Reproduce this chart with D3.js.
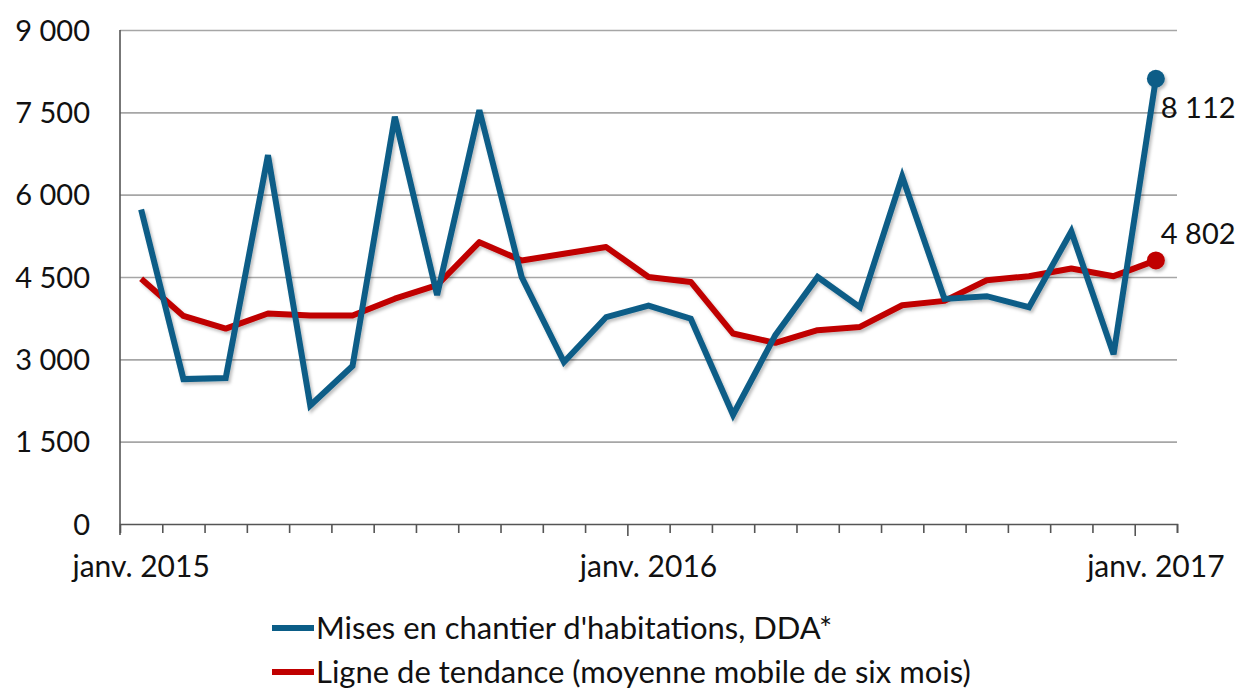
<!DOCTYPE html>
<html>
<head>
<meta charset="utf-8">
<script src="https://cdn.jsdelivr.net/npm/d3@7"></script>
<style>
  body { margin: 0; background: #fff; }
  svg text { font-family: Lato, "Open Sans", sans-serif; fill: #111; }
</style>
</head>
<body>
<svg id="chart" width="1241" height="692"></svg>
<script>
// months, jan 2015 -> jan 2017
var months = ["2015-01","2015-02","2015-03","2015-04","2015-05","2015-06","2015-07","2015-08","2015-09","2015-10","2015-11","2015-12",
              "2016-01","2016-02","2016-03","2016-04","2016-05","2016-06","2016-07","2016-08","2016-09","2016-10","2016-11","2016-12",
              "2017-01"];
var mises = [5730, 2640, 2660, 6720, 2160, 2880, 7420, 4170, 7540, 4500, 2950, 3770,
             3980, 3740, 1990, 3440, 4500, 3950, 6330, 4100, 4150, 3950, 5330, 3090,
             8112];
var tendance = [4470, 3790, 3560, 3835, 3800, 3800, 4105, 4350, 5135, 4800, 4925, 5045,
                4500, 4410, 3470, 3300, 3530, 3590, 3985, 4065, 4440, 4515, 4655, 4515,
                4802];
var yTicks = [0, 1500, 3000, 4500, 6000, 7500, 9000];
var xLabels = [{ month: "2015-01", text: "janv. 2015" }, { month: "2016-01", text: "janv. 2016" }, { month: "2017-01", text: "janv. 2017" }];
var seriesNames = ["Mises en chantier d'habitations, DDA*", "Ligne de tendance (moyenne mobile de six mois)"];

var blue = "#0b5d87", red = "#c00000";
var svg = d3.select("#chart");
// plot box (don't call it top, window.top is taken)
var pLeft = 120, pRight = 1177, pTop = 30, pBottom = 524;

var x = d3.scaleBand().domain(months).range([pLeft, pRight]).padding(0);
var idx = d3.scaleLinear().domain([0, months.length]).range([pLeft, pRight]);
var y = d3.scaleLinear().domain([0, 9000]).range([pBottom, pTop]);

var fmt = function(v) { return d3.format(",")(v).replace(/,/g, " "); };

// shadow
var defs = svg.append("defs");
defs.append("filter").attr("id", "shadow").attr("x", "-5%").attr("y", "-5%").attr("width", "110%").attr("height", "110%")
  .append("feDropShadow").attr("dx", 2).attr("dy", 2.5).attr("stdDeviation", 1.5)
  .attr("flood-color", "#000").attr("flood-opacity", 0.25);

// gridlines
var grid = svg.append("g").attr("transform", "translate(" + pLeft + ",0)")
  .call(d3.axisRight(y).tickValues(yTicks.filter(function(d){ return d > 0; })).tickSize(pRight - pLeft).tickFormat(""));
grid.select(".domain").remove();
grid.selectAll("line").attr("stroke", "#a6a6a6").attr("stroke-width", 1.6);

// y axis
var yAxis = svg.append("g").attr("transform", "translate(" + pLeft + ",0)")
  .call(d3.axisLeft(y).tickValues(yTicks).tickSize(0).tickPadding(30).tickFormat(fmt));
yAxis.select(".domain").remove();
yAxis.selectAll("text").style("font-size", "29px").attr("dy", "0.35em");
svg.append("line").attr("x1", pLeft).attr("x2", pLeft).attr("y1", y(9000)).attr("y2", pBottom + 11)
  .attr("stroke", "#555").attr("stroke-width", 1.6);

// x axis ticks at month edges
var xAxis = svg.append("g").attr("transform", "translate(0," + pBottom + ")")
  .call(d3.axisBottom(idx).tickValues(d3.range(1, months.length + 1)).tickSize(9).tickFormat(""));
xAxis.select(".domain").attr("stroke", "#555").attr("stroke-width", 1.6);
xAxis.selectAll(".tick line").attr("stroke", "#555").attr("stroke-width", 1.6)
  .attr("y2", function(d) { return d % 12 === 0 ? 12 : 9; });

svg.append("g").selectAll("text").data(xLabels).join("text")
  .attr("x", function(d) { return x(d.month) + x.bandwidth() / 2; })
  .attr("y", 577)
  .attr("text-anchor", "middle")
  .style("font-size", "30px")
  .text(function(d) { return d.text; });

// lines
var line = d3.line()
  .x(function(d, i) { return x(months[i]) + x.bandwidth() / 2; })
  .y(function(d) { return y(d); });

var g = svg.append("g").attr("filter", "url(#shadow)");
g.append("path").datum(tendance).attr("d", line).attr("fill", "none")
  .attr("stroke", red).attr("stroke-width", 6).attr("stroke-linejoin", "round");
g.append("path").datum(mises).attr("d", line).attr("fill", "none")
  .attr("stroke", blue).attr("stroke-width", 6).attr("stroke-linejoin", "miter");

var last = months.length - 1;
var lx = x(months[last]) + x.bandwidth() / 2;
g.append("circle").attr("cx", lx).attr("cy", y(mises[last])).attr("r", 9).attr("fill", blue);
g.append("circle").attr("cx", lx).attr("cy", y(tendance[last])).attr("r", 9).attr("fill", red);

svg.append("text").attr("x", lx + 5).attr("y", y(mises[last]) + 39).style("font-size", "29px").text(fmt(mises[last]));
svg.append("text").attr("x", lx + 5).attr("y", y(tendance[last]) - 16).style("font-size", "29px").text(fmt(tendance[last]));

// legend
var legend = svg.append("g").selectAll("g").data(seriesNames).join("g")
  .attr("transform", function(d, i) { return "translate(272," + (628 + i * 44) + ")"; });
legend.append("line").attr("x1", 0).attr("x2", 42).attr("y1", 0).attr("y2", 0)
  .attr("stroke", function(d, i) { return i === 0 ? blue : red; }).attr("stroke-width", 6);
legend.append("text").attr("x", 44).attr("y", 0).attr("dy", "0.35em").style("font-size", "31px")
  .text(function(d) { return d; });
</script>
</body>
</html>
